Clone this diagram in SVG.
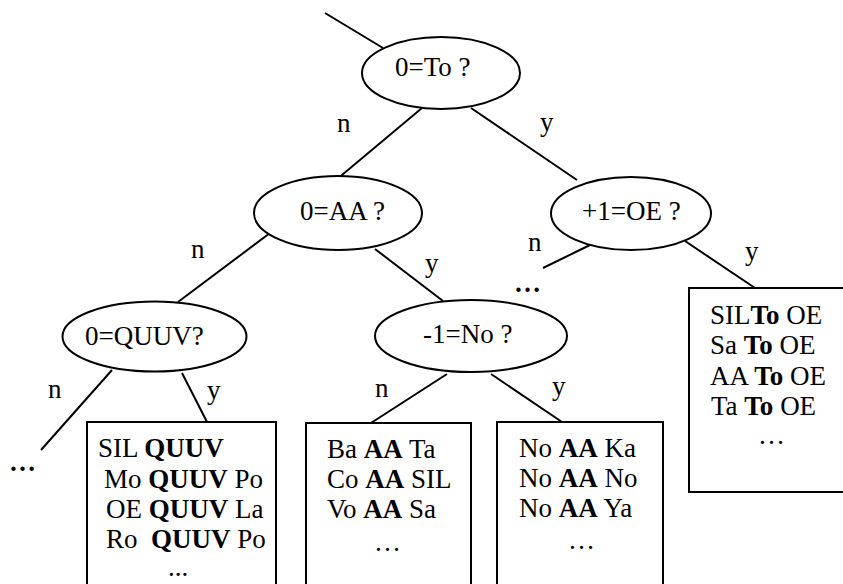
<svg xmlns="http://www.w3.org/2000/svg" width="843" height="584" viewBox="0 0 843 584" font-family="'Liberation Serif', 'Times New Roman', Tinos, 'DejaVu Serif', serif">
<style>
text{font-family:"Liberation Serif","Times New Roman",Tinos,"DejaVu Serif",serif;font-size:27px;fill:#000;white-space:pre}
.b{font-weight:bold}
.node ellipse,.node rect{fill:#fff;stroke:#000;stroke-width:2}
#connectors line{stroke:#000;stroke-width:2}
</style>
<rect width="843" height="584" fill="#fff"/>
<g id="connectors">
<line x1="325" y1="13" x2="383" y2="48"/>
<line x1="422" y1="108" x2="336" y2="180"/>
<line x1="471" y1="108" x2="577" y2="180"/>
<line x1="270" y1="233" x2="178" y2="302"/>
<line x1="375" y1="249" x2="443" y2="301"/>
<line x1="590" y1="245" x2="543" y2="268"/>
<line x1="685" y1="241" x2="755" y2="288"/>
<line x1="112" y1="370" x2="41" y2="450"/>
<line x1="182" y1="373" x2="207" y2="422"/>
<line x1="447" y1="374" x2="371" y2="423"/>
<line x1="491" y1="374" x2="562" y2="422"/>
</g>
<g id="labels">
<text x="337" y="132">n</text>
<text x="540" y="131">y</text>
<text x="191" y="258">n</text>
<text x="425" y="272">y</text>
<text x="528" y="251">n</text>
<text x="745" y="260">y</text>
<text x="48" y="398">n</text>
<text x="207" y="399">y</text>
<text x="375" y="397">n</text>
<text x="552" y="395">y</text>
<text class="b" x="514" y="292">…</text>
<text class="b" x="9" y="471">…</text>
</g>
<g id="q1" class="node">
<ellipse cx="441" cy="73" rx="79" ry="36"/>
<text x="395" y="76">0=To ?</text>
</g>
<g id="q2" class="node">
<ellipse cx="338" cy="213" rx="84" ry="37"/>
<text x="300" y="220">0=AA ?</text>
</g>
<g id="q3" class="node">
<ellipse cx="631" cy="213.5" rx="80" ry="36.5"/>
<text x="582" y="220">+1=OE ?</text>
</g>
<g id="q4" class="node">
<ellipse cx="471" cy="336" rx="96" ry="36"/>
<text x="423" y="343">-1=No ?</text>
</g>
<g id="q5" class="node">
<ellipse cx="154.5" cy="336.5" rx="92" ry="35"/>
<text x="85" y="345">0=QUUV?</text>
</g>
<g id="box1" class="node">
<rect x="87" y="422" width="189" height="180"/>
<text x="98" y="457">SIL <tspan class="b">QUUV</tspan></text>
<text x="104" y="488">Mo <tspan class="b">QUUV</tspan> Po</text>
<text x="106" y="518">OE <tspan class="b">QUUV</tspan> La</text>
<text x="106" y="548">Ro  <tspan class="b">QUUV</tspan> Po</text>
<text x="168" y="576">...</text>
</g>
<g id="box2" class="node">
<rect x="306" y="423" width="165" height="180"/>
<text x="327" y="458">Ba <tspan class="b">AA</tspan> Ta</text>
<text x="327" y="488">Co <tspan class="b">AA</tspan> SIL</text>
<text x="327" y="518">Vo <tspan class="b">AA</tspan> Sa</text>
<text x="374" y="551">…</text>
</g>
<g id="box3" class="node">
<rect x="497" y="422" width="166" height="180"/>
<text x="519" y="457">No <tspan class="b">AA</tspan> Ka</text>
<text x="519" y="487">No <tspan class="b">AA</tspan> No</text>
<text x="519" y="517">No <tspan class="b">AA</tspan> Ya</text>
<text x="568" y="549">…</text>
</g>
<g id="box4" class="node">
<rect x="689" y="288" width="160" height="204"/>
<text x="710" y="324">SIL<tspan class="b">To</tspan> OE</text>
<text x="710" y="354">Sa <tspan class="b">To</tspan> OE</text>
<text x="710" y="385">AA <tspan class="b">To</tspan> OE</text>
<text x="711" y="415">Ta <tspan class="b">To</tspan> OE</text>
<text x="758" y="444">…</text>
</g>
</svg>
